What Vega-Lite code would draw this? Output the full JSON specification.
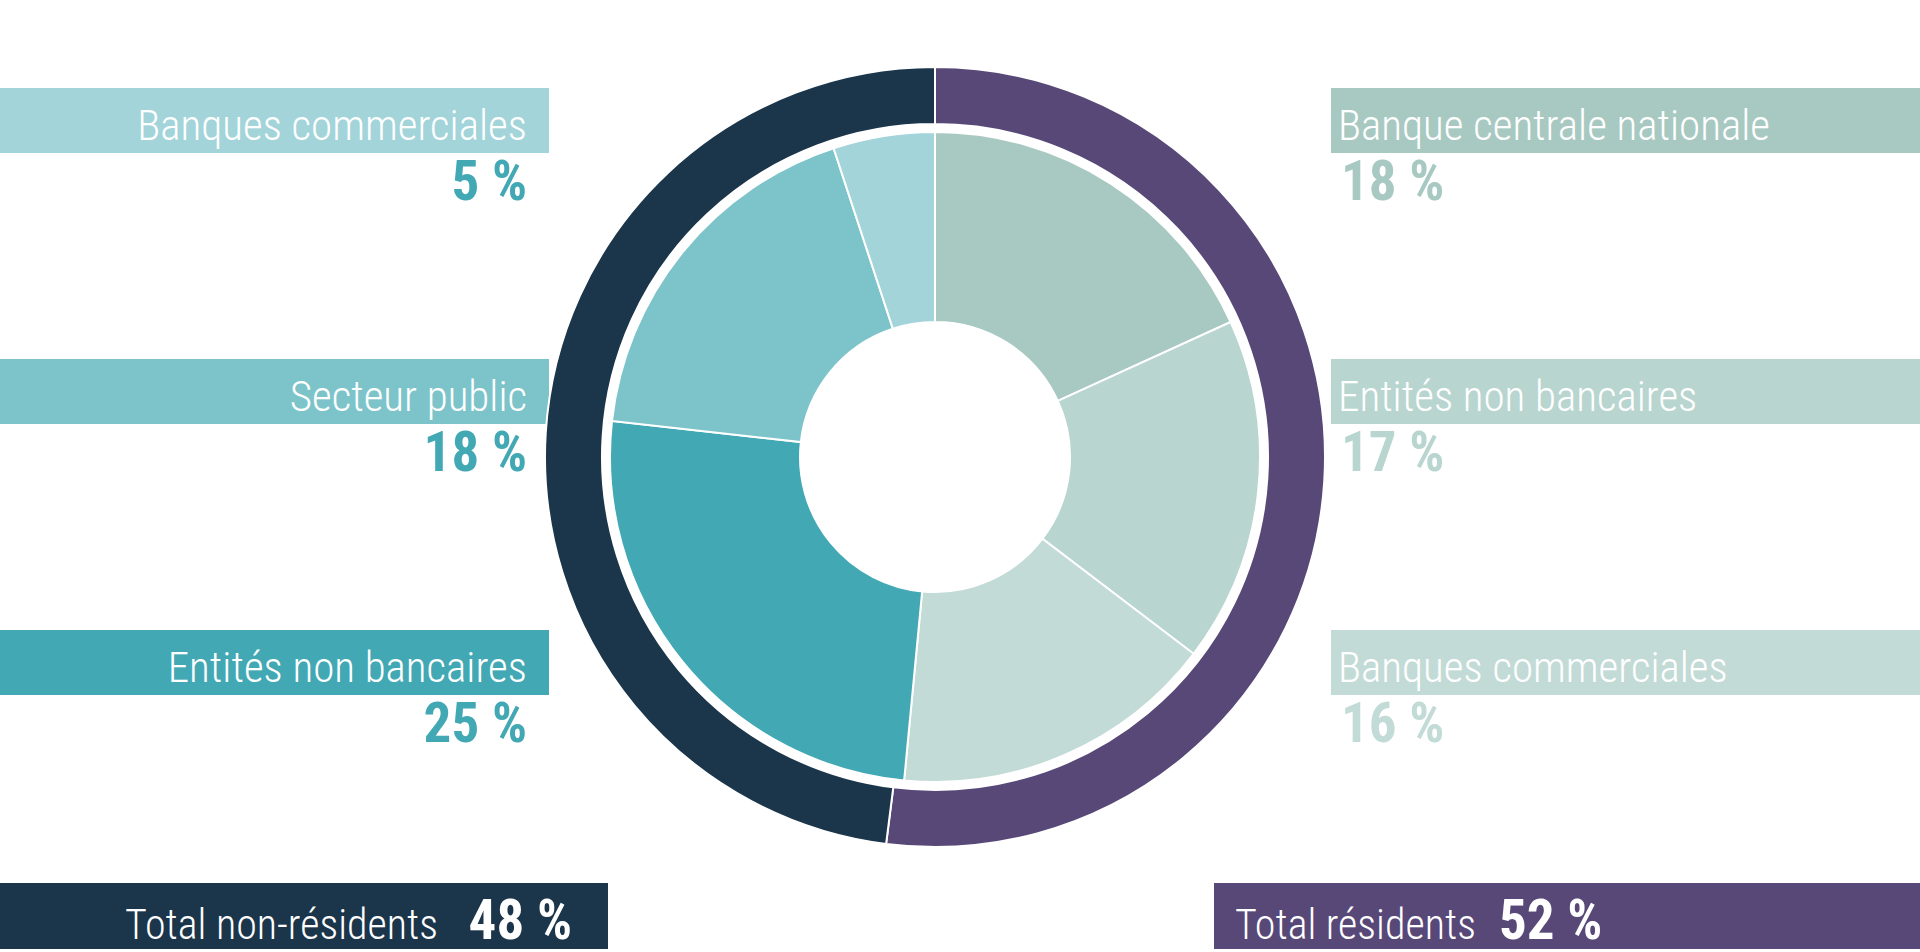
{
  "$schema": "https://vega.github.io/schema/vega-lite/v6.json",
  "autosize": "none",
  "width": 1870,
  "height": 914,
  "padding": {"left": 0, "top": 0, "right": 50, "bottom": 38},
  "background": "white",
  "config": {
    "view": {"stroke": null},
    "font": "Roboto Condensed, DejaVu Sans Condensed, sans-serif"
  },
  "datasets": {
    "inner": [
      {"sector": "Banque centrale nationale", "group": "Résidents", "key": "Résidents / Banque centrale nationale", "pct": 18, "order": 1, "row": 1},
      {"sector": "Entités non bancaires", "group": "Résidents", "key": "Résidents / Entités non bancaires", "pct": 17, "order": 2, "row": 2},
      {"sector": "Banques commerciales", "group": "Résidents", "key": "Résidents / Banques commerciales", "pct": 16, "order": 3, "row": 3},
      {"sector": "Entités non bancaires", "group": "Non-résidents", "key": "Non-résidents / Entités non bancaires", "pct": 25, "order": 4, "row": 3},
      {"sector": "Secteur public", "group": "Non-résidents", "key": "Non-résidents / Secteur public", "pct": 18, "order": 5, "row": 2},
      {"sector": "Banques commerciales", "group": "Non-résidents", "key": "Non-résidents / Banques commerciales", "pct": 5, "order": 6, "row": 1}
    ],
    "outer": [
      {"group": "Résidents", "key": "Résidents", "label": "Total résidents", "pct": 52, "order": 1},
      {"group": "Non-résidents", "key": "Non-résidents", "label": "Total non-résidents", "pct": 48, "order": 2}
    ]
  },
  "resolve": {"scale": {"x": "independent", "y": "independent", "theta": "independent", "color": "shared"}},
  "layer": [
    {
      "data": {"name": "inner"},
      "mark": {"type": "rect"},
      "encoding": {
        "x": {"field": "group", "type": "nominal", "axis": null, "scale": {"type": "band", "domain": ["Non-résidents", "Résidents"], "range": [-40, 1920], "paddingInner": 0.5704, "paddingOuter": 0}},
        "y": {"field": "row", "type": "ordinal", "axis": null, "scale": {"type": "band", "domain": [1, 2, 3], "range": [88, 695], "paddingInner": 0.7601, "paddingOuter": 0}},
        "color": {"field": "key", "type": "nominal", "legend": null, "scale": {
          "domain": ["Résidents / Banque centrale nationale", "Résidents / Entités non bancaires", "Résidents / Banques commerciales", "Non-résidents / Entités non bancaires", "Non-résidents / Secteur public", "Non-résidents / Banques commerciales", "Résidents", "Non-résidents"],
          "range": ["#a8c9c1", "#b9d5cf", "#c3dbd6", "#42a8b4", "#7cc4ca", "#a2d4d9", "#574878", "#1b354b"]}}
      }
    },
    {
      "data": {"name": "outer"},
      "mark": {"type": "rect"},
      "encoding": {
        "x": {"field": "group", "type": "nominal", "axis": null, "scale": {"type": "band", "domain": ["Non-résidents", "Résidents"], "range": [-98, 1920], "paddingInner": 0.4619, "paddingOuter": 0}},
        "y": {"datum": "Total", "type": "nominal", "axis": null, "scale": {"type": "band", "domain": ["Total"], "range": [883, 949], "paddingInner": 0, "paddingOuter": 0}},
        "color": {"field": "key", "type": "nominal", "legend": null}
      }
    },
    {
      "data": {"name": "outer"},
      "mark": {"type": "arc", "outerRadius": 390, "innerRadius": 333, "stroke": "white", "strokeWidth": 2},
      "encoding": {
        "theta": {"field": "pct", "type": "quantitative", "stack": true},
        "order": {"field": "order", "type": "quantitative"},
        "color": {"field": "key", "type": "nominal", "legend": null}
      }
    },
    {
      "data": {"name": "inner"},
      "mark": {"type": "arc", "outerRadius": 325, "innerRadius": 135, "stroke": "white", "strokeWidth": 2},
      "encoding": {
        "theta": {"field": "pct", "type": "quantitative", "stack": true},
        "order": {"field": "order", "type": "quantitative"},
        "color": {"field": "key", "type": "nominal", "legend": null}
      }
    },
    {
      "data": {"name": "inner"},
      "transform": [{"filter": "datum.group === 'Non-résidents'"}],
      "mark": {"type": "text", "align": "right", "baseline": "alphabetic", "dx": -22, "dy": -13, "fontSize": 43, "fontWeight": 300, "color": "white"},
      "encoding": {
        "x": {"field": "group", "type": "nominal", "axis": null, "bandPosition": 1, "scale": {"type": "band", "domain": ["Non-résidents", "Résidents"], "range": [-40, 1920], "paddingInner": 0.5704, "paddingOuter": 0}},
        "y": {"field": "row", "type": "ordinal", "axis": null, "bandPosition": 1, "scale": {"type": "band", "domain": [1, 2, 3], "range": [88, 695], "paddingInner": 0.7601, "paddingOuter": 0}},
        "text": {"field": "sector"}
      }
    },
    {
      "data": {"name": "inner"},
      "transform": [{"filter": "datum.group === 'Résidents'"}],
      "mark": {"type": "text", "align": "left", "baseline": "alphabetic", "dx": 7, "dy": -13, "fontSize": 43, "fontWeight": 300, "color": "white"},
      "encoding": {
        "x": {"field": "group", "type": "nominal", "axis": null, "bandPosition": 0, "scale": {"type": "band", "domain": ["Non-résidents", "Résidents"], "range": [-40, 1920], "paddingInner": 0.5704, "paddingOuter": 0}},
        "y": {"field": "row", "type": "ordinal", "axis": null, "bandPosition": 1, "scale": {"type": "band", "domain": [1, 2, 3], "range": [88, 695], "paddingInner": 0.7601, "paddingOuter": 0}},
        "text": {"field": "sector"}
      }
    },
    {
      "data": {"name": "inner"},
      "transform": [{"filter": "datum.group === 'Non-résidents'"}, {"calculate": "datum.pct + ' %'", "as": "pctLabel"}],
      "mark": {"type": "text", "align": "right", "baseline": "alphabetic", "dx": -22, "dy": 47, "fontSize": 55, "fontWeight": "bold", "color": "#42a8b4"},
      "encoding": {
        "x": {"field": "group", "type": "nominal", "axis": null, "bandPosition": 1, "scale": {"type": "band", "domain": ["Non-résidents", "Résidents"], "range": [-40, 1920], "paddingInner": 0.5704, "paddingOuter": 0}},
        "y": {"field": "row", "type": "ordinal", "axis": null, "bandPosition": 1, "scale": {"type": "band", "domain": [1, 2, 3], "range": [88, 695], "paddingInner": 0.7601, "paddingOuter": 0}},
        "text": {"field": "pctLabel"}
      }
    },
    {
      "data": {"name": "inner"},
      "transform": [{"filter": "datum.group === 'Résidents'"}, {"calculate": "datum.pct + ' %'", "as": "pctLabel"}],
      "mark": {"type": "text", "align": "left", "baseline": "alphabetic", "dx": 10, "dy": 47, "fontSize": 55, "fontWeight": "bold"},
      "encoding": {
        "x": {"field": "group", "type": "nominal", "axis": null, "bandPosition": 0, "scale": {"type": "band", "domain": ["Non-résidents", "Résidents"], "range": [-40, 1920], "paddingInner": 0.5704, "paddingOuter": 0}},
        "y": {"field": "row", "type": "ordinal", "axis": null, "bandPosition": 1, "scale": {"type": "band", "domain": [1, 2, 3], "range": [88, 695], "paddingInner": 0.7601, "paddingOuter": 0}},
        "text": {"field": "pctLabel"},
        "color": {"field": "key", "type": "nominal", "legend": null}
      }
    },
    {
      "data": {"name": "outer"},
      "transform": [{"filter": "datum.group === 'Non-résidents'"}],
      "mark": {"type": "text", "align": "right", "baseline": "alphabetic", "dx": -170, "dy": -10, "fontSize": 42, "fontWeight": 300, "color": "white"},
      "encoding": {
        "x": {"field": "group", "type": "nominal", "axis": null, "bandPosition": 1, "scale": {"type": "band", "domain": ["Non-résidents", "Résidents"], "range": [-98, 1920], "paddingInner": 0.4619, "paddingOuter": 0}},
        "y": {"datum": "Total", "type": "nominal", "axis": null, "bandPosition": 1, "scale": {"type": "band", "domain": ["Total"], "range": [883, 949], "paddingInner": 0, "paddingOuter": 0}},
        "text": {"field": "label"}
      }
    },
    {
      "data": {"name": "outer"},
      "transform": [{"filter": "datum.group === 'Non-résidents'"}, {"calculate": "datum.pct + ' %'", "as": "pctLabel"}],
      "mark": {"type": "text", "align": "right", "baseline": "alphabetic", "dx": -36, "dy": -10, "fontSize": 55, "fontWeight": "bold", "color": "white"},
      "encoding": {
        "x": {"field": "group", "type": "nominal", "axis": null, "bandPosition": 1, "scale": {"type": "band", "domain": ["Non-résidents", "Résidents"], "range": [-98, 1920], "paddingInner": 0.4619, "paddingOuter": 0}},
        "y": {"datum": "Total", "type": "nominal", "axis": null, "bandPosition": 1, "scale": {"type": "band", "domain": ["Total"], "range": [883, 949], "paddingInner": 0, "paddingOuter": 0}},
        "text": {"field": "pctLabel"}
      }
    },
    {
      "data": {"name": "outer"},
      "transform": [{"filter": "datum.group === 'Résidents'"}],
      "mark": {"type": "text", "align": "left", "baseline": "alphabetic", "dx": 21, "dy": -10, "fontSize": 42, "fontWeight": 300, "color": "white"},
      "encoding": {
        "x": {"field": "group", "type": "nominal", "axis": null, "bandPosition": 0, "scale": {"type": "band", "domain": ["Non-résidents", "Résidents"], "range": [-98, 1920], "paddingInner": 0.4619, "paddingOuter": 0}},
        "y": {"datum": "Total", "type": "nominal", "axis": null, "bandPosition": 1, "scale": {"type": "band", "domain": ["Total"], "range": [883, 949], "paddingInner": 0, "paddingOuter": 0}},
        "text": {"field": "label"}
      }
    },
    {
      "data": {"name": "outer"},
      "transform": [{"filter": "datum.group === 'Résidents'"}, {"calculate": "datum.pct + ' %'", "as": "pctLabel"}],
      "mark": {"type": "text", "align": "left", "baseline": "alphabetic", "dx": 285, "dy": -10, "fontSize": 55, "fontWeight": "bold", "color": "white"},
      "encoding": {
        "x": {"field": "group", "type": "nominal", "axis": null, "bandPosition": 0, "scale": {"type": "band", "domain": ["Non-résidents", "Résidents"], "range": [-98, 1920], "paddingInner": 0.4619, "paddingOuter": 0}},
        "y": {"datum": "Total", "type": "nominal", "axis": null, "bandPosition": 1, "scale": {"type": "band", "domain": ["Total"], "range": [883, 949], "paddingInner": 0, "paddingOuter": 0}},
        "text": {"field": "pctLabel"}
      }
    }
  ]
}
